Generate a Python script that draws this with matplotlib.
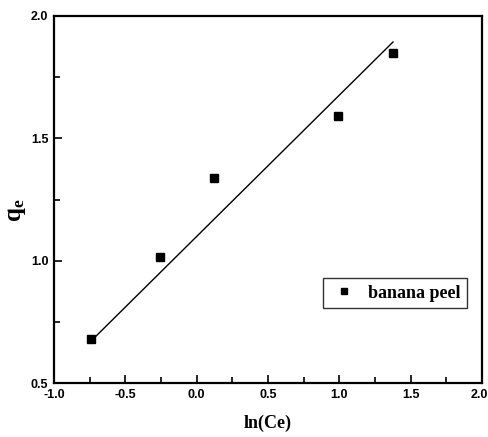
import numpy as np
import matplotlib
matplotlib.use('Agg')
import matplotlib.pyplot as plt
import matplotlib.transforms as mtransforms
from matplotlib.ticker import MultipleLocator

plt.rcParams['mathtext.fontset'] = 'custom'
plt.rcParams['mathtext.rm'] = 'Liberation Serif:bold'
plt.rcParams['mathtext.bf'] = 'Liberation Serif:bold'
plt.rcParams['mathtext.it'] = 'Liberation Serif:bold'
plt.rcParams['axes.unicode_minus'] = False

# data
ln_ce = [-0.74, -0.257, 0.121, 0.99, 1.376]
q_e = [0.68, 1.015, 1.338, 1.59, 1.849]

# fitted line as drawn (slope, intercept)
fit_slope = 0.5775
fit_intercept = 1.099

fig = plt.figure(figsize=(4.89, 4.37), dpi=100)
ax = fig.add_axes([54 / 489, 1 - 383 / 437, 428 / 489, 367 / 437])

ax.plot(ln_ce, q_e, 's', color='black', markersize=6, label='banana peel')
fit_x = np.array([min(ln_ce), max(ln_ce)])
ax.plot(fit_x, fit_slope * fit_x + fit_intercept, '-', color='black', lw=1)

ax.set_xlim(-1.0, 2.0)
ax.set_ylim(0.5, 2.0)
ax.xaxis.set_major_locator(MultipleLocator(0.5))
ax.xaxis.set_minor_locator(MultipleLocator(0.25))
ax.yaxis.set_major_locator(MultipleLocator(0.5))
ax.yaxis.set_minor_locator(MultipleLocator(0.25))

for s in ax.spines.values():
    s.set_linewidth(1.6)

ax.tick_params(which='both', direction='in', width=1.2)
ax.tick_params(which='major', length=6, pad=4)
ax.tick_params(which='minor', length=4)
ax.tick_params(which='both', top=False, right=False)

for lab in ax.get_xticklabels() + ax.get_yticklabels():
    lab.set_fontfamily('Liberation Sans')
    lab.set_fontweight('bold')
    lab.set_fontsize(9)

# keep the last x label inside the figure edge
fig.canvas.draw()
last_tick = [t for t in ax.xaxis.get_major_ticks()
             if abs(t.get_loc() - 2.0) < 1e-9][0]
last_tick.label1.set_horizontalalignment('right')
last_tick.label1.set_transform(last_tick.label1.get_transform() +
                               mtransforms.ScaledTranslation(6 / 100, 0, fig.dpi_scale_trans))

ax.set_xlabel('ln(Ce)', fontfamily='Liberation Serif', fontweight='bold',
              fontsize=13, labelpad=10)
ax.set_ylabel('q$_\\mathrm{e}$', fontfamily='Liberation Serif', fontweight='bold',
              fontsize=18)
ax.yaxis.set_label_coords(-0.06, 0.47)

leg = ax.legend(loc='lower right', bbox_to_anchor=(0.985, 0.18),
                prop={'family': 'Liberation Serif', 'weight': 'bold', 'size': 13},
                fancybox=False, edgecolor='black', handletextpad=0.5,
                handlelength=1.6, borderpad=0.35, markerscale=0.8)
leg.get_frame().set_linewidth(1.0)

fig.savefig('out.png', dpi=100)
